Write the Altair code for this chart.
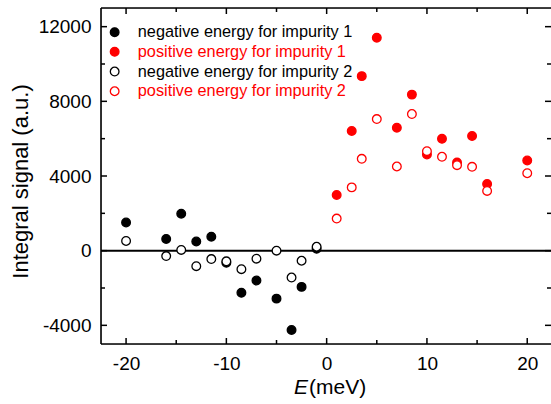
import altair as alt
import pandas as pd

series = ["negative energy for impurity 1", "positive energy for impurity 1",
          "negative energy for impurity 2", "positive energy for impurity 2"]

neg_E = [-20, -16, -14.5, -13, -11.5, -10, -8.5, -7, -5, -3.5, -2.5, -1]
neg_imp1 = [1510, 630, 1980, 490, 750, -650, -2260, -1600, -2570, -4250, -1940, 100]
neg_imp2 = [520, -290, 40, -830, -450, -570, -990, -430, 0, -1440, -540, 210]

pos_E = [1, 2.5, 3.5, 5, 7, 8.5, 10, 11.5, 13, 14.5, 16, 20]
pos_imp1 = [2980, 6410, 9350, 11410, 6590, 8360, 5150, 5990, 4720, 6140, 3570, 4830]
pos_imp2 = [1720, 3390, 4920, 7050, 4510, 7320, 5330, 5030, 4580, 4490, 3200, 4150]

x_major = [-20, -10, 0, 10, 20]
x_minor = [-15, -5, 5, 15]
y_major = [-4000, 0, 4000, 8000, 12000]
y_minor = [-2000, 2000, 6000, 10000]
zero_line = [0]
x_title_parts = ["E", "(meV)"]

rows = []
for e, v in zip(neg_E, neg_imp1):
    rows.append({"E": e, "S": v, "series": series[0]})
for e, v in zip(pos_E, pos_imp1):
    rows.append({"E": e, "S": v, "series": series[1]})
for e, v in zip(neg_E, neg_imp2):
    rows.append({"E": e, "S": v, "series": series[2]})
for e, v in zip(pos_E, pos_imp2):
    rows.append({"E": e, "S": v, "series": series[3]})
df = pd.DataFrame(rows)

W, H = 450, 336
FONT = "Liberation Sans"
xscale = alt.Scale(domain=[-22.5, 22.37], nice=False, zero=False)
yscale = alt.Scale(domain=[-5000, 13000], nice=False, zero=False)

xaxis = alt.Axis(
    values=x_major, title=None, grid=False, domain=False, ticks=False, tickSize=0,
    labelPadding=10, labelFont=FONT, labelFontSize=19, labelColor="black",
    labelExpr="datum.value + ''")
yaxis = alt.Axis(
    values=y_major, title="Integral signal (a.u.)", grid=False, domain=False,
    ticks=False, tickSize=0, labelPadding=10, labelFont=FONT, labelFontSize=19,
    labelColor="black", labelExpr="datum.value + ''",
    titleFont=FONT, titleFontSize=22, titleFontWeight="normal", titleColor="black",
    titleX=-73.6, titleY=173, titleAlign="center", titleBaseline="alphabetic",
    titleAngle=270)


def X(field):
    return alt.X(field, scale=xscale, axis=xaxis)


def Y(field):
    return alt.Y(field, scale=yscale, axis=yaxis)


leg = alt.Legend(
    title=None, orient="none", legendX=5.5, legendY=16, padding=0,
    rowPadding=2.7, labelOffset=15, labelFont=FONT, labelFontSize=16.3,
    labelLimit=0, symbolType="circle", symbolStrokeWidth=1.3,
    labelColor={"expr": "indexof(datum.value, 'positive') >= 0 ? '#ff0000' : '#000000'"},
)

points = alt.Chart(df).mark_point(shape="circle", strokeWidth=1.3, opacity=1).encode(
    x=X("E:Q"),
    y=Y("S:Q"),
    stroke=alt.Stroke("series:N", scale=alt.Scale(domain=series, range=["#000000", "#ff0000", "#000000", "#ff0000"]), legend=leg),
    fill=alt.Fill("series:N", scale=alt.Scale(domain=series, range=["#000000", "#ff0000", "#ffffff", "#ffffff"]), legend=leg),
    size=alt.Size("series:N", scale=alt.Scale(domain=series, range=[75, 75, 40, 40]), legend=leg),
)


def tick_layers(vals, axis, L):
    d = pd.DataFrame({"v": vals})
    base = alt.Chart(d).mark_rule(color="black", strokeWidth=1.5)
    if axis == "x":
        return [base.encode(x=X("v:Q"), y=alt.value(H), y2=alt.value(H - L)),
                base.encode(x=X("v:Q"), y=alt.value(0), y2=alt.value(L))]
    return [base.encode(y=Y("v:Q"), x=alt.value(0), x2=alt.value(L)),
            base.encode(y=Y("v:Q"), x=alt.value(W), x2=alt.value(W - L))]


one = pd.DataFrame({"a": [0]})
frame = [
    alt.Chart(one).mark_rule(color="black", strokeWidth=1.6).encode(x=alt.value(0), y=alt.value(0), y2=alt.value(H)),
    alt.Chart(one).mark_rule(color="black", strokeWidth=1.6).encode(x=alt.value(0), x2=alt.value(W + 2), y=alt.value(0)),
    alt.Chart(one).mark_rule(color="black", strokeWidth=1.6).encode(x=alt.value(0), x2=alt.value(W + 2), y=alt.value(H)),
]

zero = alt.Chart(pd.DataFrame({"y": zero_line})).mark_rule(color="black", strokeWidth=2).encode(
    y=Y("y:Q"))

e_txt = alt.Chart(pd.DataFrame({"t": [x_title_parts[0]]})).mark_text(
    align="left", baseline="alphabetic", font=FONT, fontSize=21, fontStyle="italic", color="black"
).encode(text="t:N", x=alt.value(193), y=alt.value(386))
u_txt = alt.Chart(pd.DataFrame({"t": [x_title_parts[1]]})).mark_text(
    align="left", baseline="alphabetic", font=FONT, fontSize=21, color="black"
).encode(text="t:N", x=alt.value(208), y=alt.value(386))

layers = [zero]
layers += tick_layers(x_major, "x", 6) + tick_layers(x_minor, "x", 4)
layers += tick_layers(y_major, "y", 6) + tick_layers(y_minor, "y", 4)
layers += frame + [points, e_txt, u_txt]

chart = alt.layer(*layers).properties(
    width=W, height=H,
    autosize=alt.AutoSizeParams(type="none"),
    padding={"left": 101, "right": 0, "top": 8, "bottom": 60},
).configure_view(stroke=None).configure(background="white")

chart.save("out.html", embed_options={"renderer": "svg", "actions": False})
